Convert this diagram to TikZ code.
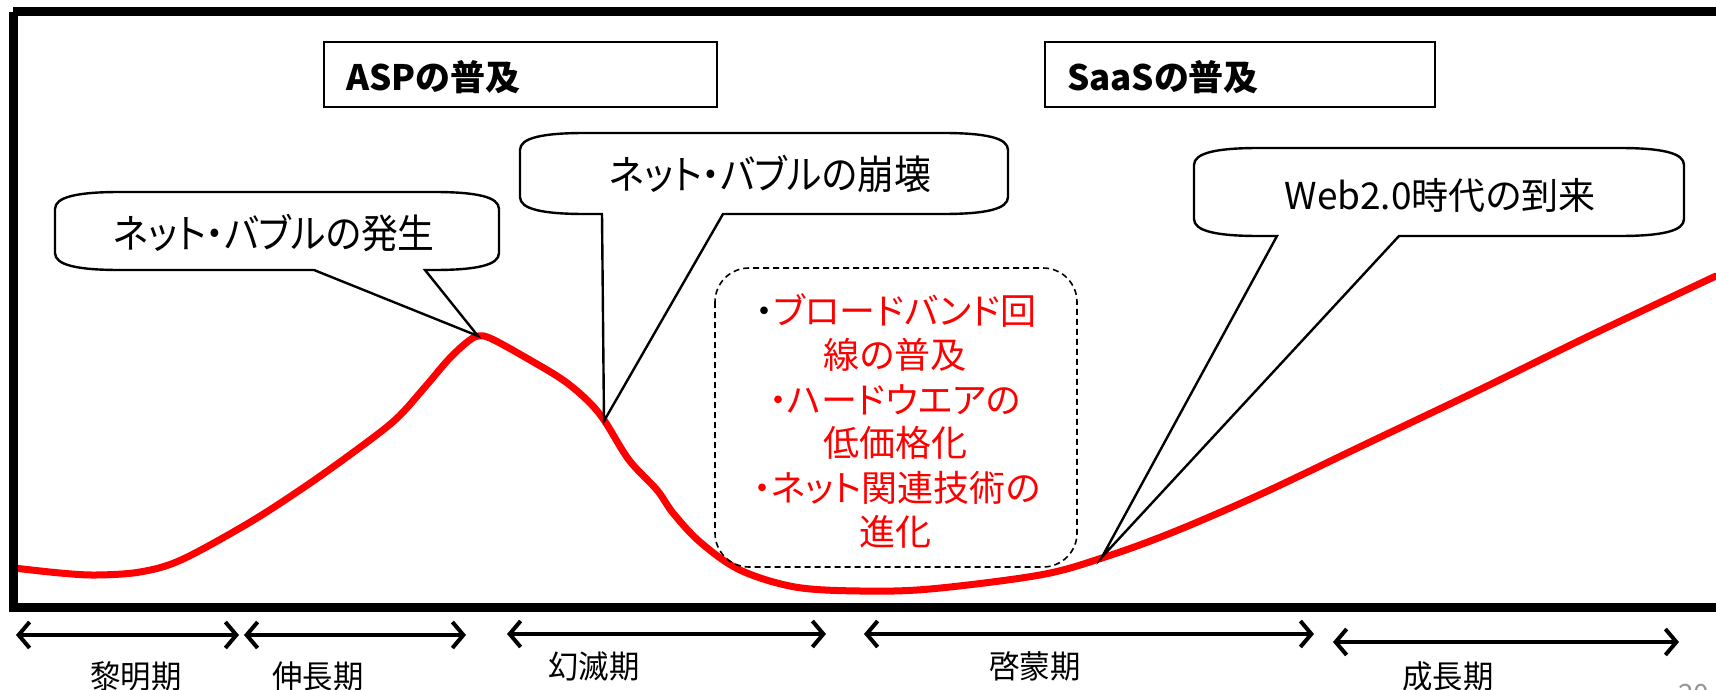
\documentclass[tikz,border=0pt]{standalone}
\usepackage{fontspec}
\usetikzlibrary{arrows.meta}
\newfontfamily\jpc{Noto Sans CJK JP}[RawFeature=+palt,FakeStretch=0.92]
\newfontfamily\jpn{Noto Sans CJK JP}[RawFeature=+palt]
\newfontfamily\jpl{Noto Sans CJK JP}[FakeStretch=0.95]
\definecolor{curvered}{RGB}{255,0,0}
\definecolor{pagegray}{RGB}{150,150,150}
\tikzset{
  bubbleline/.style={draw=black,line width=2.4pt,fill=white,line join=miter},
  titlebox/.style={draw=black,line width=2pt},
  titletext/.style={font=\jpn\bfseries\fontsize{35}{40}\selectfont,anchor=west,inner sep=0pt},
  bubbletext/.style={font=\jpc\fontsize{40}{44}\selectfont,inner sep=0pt},
  redtext/.style={font=\jpn\fontsize{36}{44.5}\selectfont,text=curvered,align=center,inner sep=0pt},
  periodarrow/.style={line width=4pt,{Straight Barb[length=11pt,width=26pt]}-{Straight Barb[length=11pt,width=26pt]}},
  periodtext/.style={font=\jpl\fontsize{32}{36}\selectfont,inner sep=0pt},
  hype/.style={draw=curvered,line width=7pt,line cap=round,line join=round}
}
\newcommand\bubble[7]{%
  \draw[bubbleline] (#1,#2+17) .. controls (#1,#2+5) and (#1+22,#2) .. (#1+65,#2)
    -- (#3-65,#2) .. controls (#3-22,#2) and (#3,#2+5) .. (#3,#2+17)
    -- (#3,#4-17) .. controls (#3,#4-5) and (#3-22,#4) .. (#3-65,#4)
    -- (#6,#4) -- (#7) -- (#5,#4)
    -- (#1+65,#4) .. controls (#1+22,#4) and (#1,#4-5) .. (#1,#4-17) -- cycle;}
\begin{document}
\begin{tikzpicture}[x=1pt,y=-1pt]
\useasboundingbox (0,0) rectangle (1716,690);
\fill[white] (0,0) rectangle (1716,690);

% hype curve
\draw[hype] plot[smooth,tension=0.55] coordinates {
 (14,568) (60,573) (96,575) (140,572) (181,560) (247,524) (300,490) (351,454)
 (395,420) (425,387) (448,360) (466,343) (478,336) (492,339) (530,360) (563,380)
 (587,400) (604,420) (629,460) (657,490) (673,513) (700,542) (740,570) (795,587)
 (860,591) (930,589) (1040,575) (1102,558) (1171,533) (1259,495) (1368,443)
 (1477,391) (1587,337) (1716,276)};

\coordinate (peak) at (478,336);
\coordinate (crash) at (604,421);
\coordinate (rise) at (1102,557);

% frame
\draw[line width=9pt] (13,12) -- (1745,12) (13,12) -- (13,607) -- (1745,607);

% title boxes
\draw[titlebox] (324,42) rectangle (717,107);
\node[titletext] (asp) at (346,77) {ASPの普及};
\draw[titlebox] (1045,42) rectangle (1435,107);
\node[titletext] (saas) at (1067,77) {SaaSの普及};

% callouts
\bubble{55}{192}{499}{270}{314}{425}{peak}
\node[bubbletext] (c1) at (274,233) {ネット・バブルの発生};
\bubble{520}{133}{1008}{214}{602}{723}{crash}
\node[bubbletext] (c2) at (770,174) {ネット・バブルの崩壊};
\bubble{1194}{148}{1684}{236}{1277}{1399}{rise}
\node[bubbletext,font=\jpn\fontsize{37}{40}\selectfont] (c3) at (1440,195) {Web2.0時代の到来};

% dashed box
\draw[dashed,line width=1.6pt,rounded corners=34pt,dash pattern=on 6pt off 4pt] (715,268) rectangle (1077,567);
\node[redtext] (r1) at (896,310) {\textcolor{black}{・}ブロードバンド回};
\node[redtext] (r2) at (895,355) {線の普及};
\node[redtext] (r3) at (895,400) {・ハードウエアの};
\node[redtext] (r4) at (895,443) {低価格化};
\node[redtext] (r5) at (897,488) {・ネット関連技術の};
\node[redtext] (r6) at (895,532) {進化};

% period arrows
\coordinate (a1s) at (16,635); \coordinate (a1e) at (239,635);
\coordinate (a2s) at (244,635); \coordinate (a2e) at (466,635);
\coordinate (a3s) at (507,634); \coordinate (a3e) at (826,634);
\coordinate (a4s) at (864,634); \coordinate (a4e) at (1314,634);
\coordinate (a5s) at (1333,642); \coordinate (a5e) at (1679,642);
\draw[periodarrow] (a1s) -- (a1e);
\draw[periodarrow] (a2s) -- (a2e);
\draw[periodarrow] (a3s) -- (a3e);
\draw[periodarrow] (a4s) -- (a4e);
\draw[periodarrow] (a5s) -- (a5e);
\node[periodtext] (p1) at (136,676) {黎明期};
\node[periodtext] (p2) at (318,676) {伸長期};
\node[periodtext] (p3) at (594,666) {幻滅期};
\node[periodtext] (p4) at (1035,666) {啓蒙期};
\node[periodtext] (p5) at (1448,676) {成長期};
\node[font=\jpn\fontsize{28}{30}\selectfont,text=pagegray,anchor=north west,inner sep=0pt] (pg) at (1678,684) {20};
\end{tikzpicture}
\end{document}
